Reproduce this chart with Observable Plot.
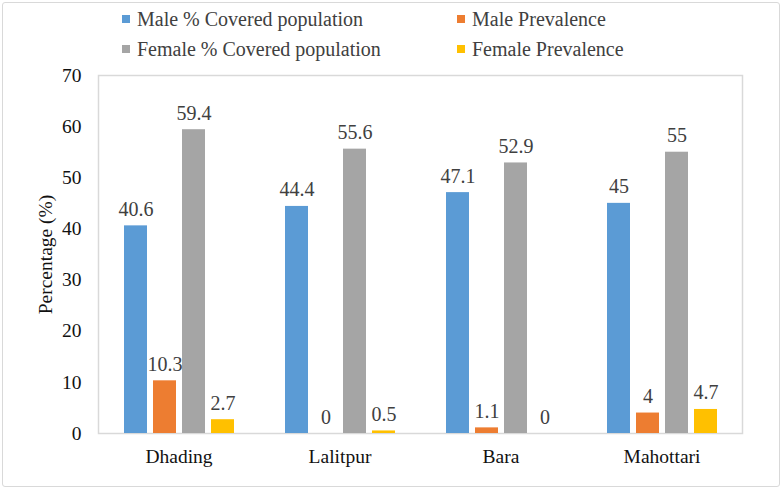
<!DOCTYPE html>
<html>
<head>
<meta charset="utf-8">
<script src="https://cdn.jsdelivr.net/npm/d3@7"></script>
<script src="https://cdn.jsdelivr.net/npm/@observablehq/plot@0.6"></script>
<style>
  body { margin: 0; background: #fff; }
  #root { position: relative; width: 783px; height: 490px; overflow: hidden; font-family: "Liberation Serif", Tinos, "Times New Roman", Times, serif; }
  #border { position: absolute; left: 2px; top: 2px; width: 776px; height: 483px; border: 1.5px solid #d9d9d9; border-radius: 3px; }
  #chart { position: absolute; left: 0; top: 0; }
  #chart svg, #chart svg text { font-family: "Liberation Serif", Tinos, "Times New Roman", Times, serif !important; }
  #legend { position: absolute; left: 122px; top: 4px; display: grid; grid-template-columns: 335px auto; grid-auto-rows: 30px; font-size: 20px; color: #404040; }
  .item { display: flex; align-items: center; white-space: nowrap; }
  .sw { width: 8px; height: 8px; margin-right: 7px; display: inline-block; }
</style>
</head>
<body>
<div id="root">
  <div id="border"></div>
  <div id="chart"></div>
  <div id="legend"></div>
</div>
<script>
const districts = ["Dhading", "Lalitpur", "Bara", "Mahottari"];
const series = ["Male % Covered population", "Male Prevalence", "Female % Covered population", "Female Prevalence"];
const maleCovered = [40.6, 44.4, 47.1, 45];
const malePrevalence = [10.3, 0, 1.1, 4];
const femaleCovered = [59.4, 55.6, 52.9, 55];
const femalePrevalence = [2.7, 0.5, 0, 4.7];
const colors = ["#5B9BD5", "#ED7D31", "#A5A5A5", "#FFC000"];
const yTicks = [0, 10, 20, 30, 40, 50, 60, 70];

const valuesBySeries = [maleCovered, malePrevalence, femaleCovered, femalePrevalence];
const data = [];
districts.forEach((d, i) => {
  series.forEach((s, j) => {
    data.push({district: d, series: s, value: valuesBySeries[j][i]});
  });
});

const chart = Plot.plot({
  width: 783,
  height: 490,
  marginTop: 75,
  marginBottom: 57,
  marginLeft: 98,
  marginRight: 41,
  style: {fontFamily: "'Liberation Serif', Tinos, 'Times New Roman', Times, serif", fontSize: "19px", color: "#111", background: "transparent"},
  fx: {domain: districts, padding: 0, label: null},
  x: {domain: series, paddingInner: 0.215, paddingOuter: 0.85, axis: null},
  y: {domain: [0, 70]},
  color: {domain: series, range: colors},
  marks: [
    Plot.frame({stroke: "#d9d9d9", strokeWidth: 1.5, facet: "super"}),
    Plot.axisY({ticks: yTicks, tickSize: 0, tickPadding: 17, label: "Percentage (%)", labelAnchor: "center", labelArrow: "none", labelOffset: 60, fontSize: 19.5}),
    Plot.axisFx({anchor: "bottom", tickSize: 0, tickPadding: 16, fontSize: 19.5, label: null}),
    Plot.barY(data, {fx: "district", x: "series", y: "value", fill: "series"}),
    Plot.text(data, {fx: "district", x: "series", y: "value", text: d => String(d.value), dy: -10, lineAnchor: "bottom", fill: "#404040", fontSize: 20})
  ]
});
document.getElementById("chart").appendChild(chart);

const legend = document.getElementById("legend");
series.forEach((s, i) => {
  const item = document.createElement("div");
  item.className = "item";
  const sw = document.createElement("span");
  sw.className = "sw";
  sw.style.background = colors[i];
  const label = document.createElement("span");
  label.textContent = s;
  item.appendChild(sw);
  item.appendChild(label);
  legend.appendChild(item);
});
</script>
</body>
</html>
